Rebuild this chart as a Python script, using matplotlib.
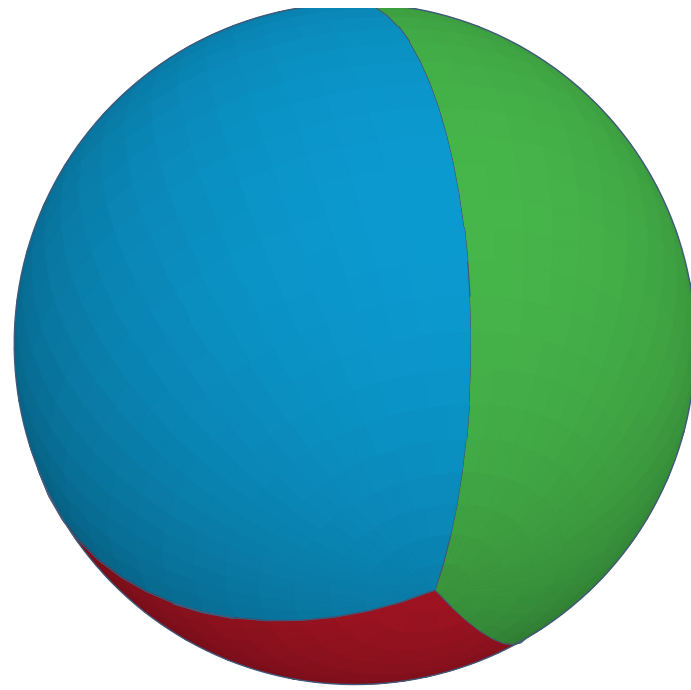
import numpy as np
import matplotlib
matplotlib.use("Agg")
import matplotlib.pyplot as plt
from mpl_toolkits.mplot3d.art3d import Poly3DCollection

# ---- data ----
labels = ["Blue", "Green", "Red"]
values = [34, 38, 28]            # percentage shares of the sphere pie
colors = ["#0b9ad0", "#46b64a", "#c4182a"]
explode = [0.0, 0.0, 0.0]
start_angle = -41                # degrees

# ---- geometry (view coords: X right, Y up, Z toward viewer) ----
a = np.array([0.235, -0.72, 0.653]); a /= np.linalg.norm(a)
u = np.array([-0.894, 0.104, 0.436]); u -= a * (u @ a); u /= np.linalg.norm(u)
v = -np.cross(a, u)
Lgt = np.array([0.3, 0.45, 1.0]); Lgt /= np.linalg.norm(Lgt)
edge_col = "#41597a"

def to_world(P):
    P = np.asarray(P)
    return np.stack([P[..., 0], -P[..., 2], P[..., 1]], axis=-1)

def shade(rgb, n):
    d = np.clip(n @ Lgt, -1, 1)
    f = 0.72 + 0.28 * d
    return tuple(np.clip(np.array(rgb) * f, 0, 1)) + (1.0,)

def sph(t, p):
    return np.cos(t) * a + np.sin(t) * (np.cos(p) * u + np.sin(p) * v)

fig = plt.figure(figsize=(6.91, 6.90), dpi=100)
ax = fig.add_axes([0, -0.012, 1, 1], projection="3d", proj_type="ortho")
ax.view_init(elev=0, azim=-90)
ax.set_axis_off()

polys, fcs, ecs, lws = [], [], [], []
fr = np.radians(np.array(values, float) / np.sum(values) * 360)
starts = np.radians(start_angle) + np.concatenate([[0], np.cumsum(fr)[:-1]])
nth = 30
th = np.linspace(0, np.pi, nth + 1)
for k in range(len(values)):
    rgb = np.array(matplotlib.colors.to_rgb(colors[k]))
    p0, p1 = starts[k], starts[k] + fr[k]
    mid = (p0 + p1) / 2
    off = explode[k] * (np.cos(mid) * u + np.sin(mid) * v)
    nph = max(4, int(np.degrees(fr[k]) / 6))
    ph = np.linspace(p0, p1, nph + 1)
    for i in range(nth):
        for j in range(nph):
            quad = np.array([sph(th[i], ph[j]), sph(th[i + 1], ph[j]),
                             sph(th[i + 1], ph[j + 1]), sph(th[i], ph[j + 1])])
            n = quad.mean(0); n /= np.linalg.norm(n)
            c = shade(rgb, n)
            polys.append(to_world(quad + off)); fcs.append(c); ecs.append(c); lws.append(0.6)
    # flat faces (split in strips)
    for p, sgn in ((p0, -1), (p1, 1)):
        w = np.cos(p) * u + np.sin(p) * v
        n = sgn * np.cross(a, w)
        c = shade(rgb * 0.85, n)
        for i in range(nth):
            tri = np.array([np.zeros(3), sph(th[i], p), sph(th[i + 1], p)]) * 0.999
            polys.append(to_world(tri + off)); fcs.append(c); ecs.append(c); lws.append(0.6)
        # boundary meridian line segments
        for i in range(nth):
            seg = np.array([sph(th[i], p), sph(th[i + 1], p)]) * 1.004
            polys.append(to_world(seg + off)); fcs.append((0, 0, 0, 0)); ecs.append(edge_col); lws.append(1.7)

pc = Poly3DCollection(polys, facecolors=fcs, edgecolors=ecs, linewidths=lws)
ax.add_collection3d(pc)

# silhouette outline (great circle perpendicular to the view direction)
tt = np.linspace(0, 2 * np.pi, 200)
ring = to_world(np.stack([np.cos(tt), np.sin(tt), np.zeros_like(tt)], -1) * 1.0)
ax.plot(ring[:, 0], ring[:, 1], ring[:, 2], color=edge_col, lw=1.0, zorder=10)
ax.computed_zorder = False

ax.set_xlim(-1, 1); ax.set_ylim(-1, 1); ax.set_zlim(-1, 1)
ax.set_box_aspect((1, 1, 1), zoom=1.66)
fig.savefig("out.png", dpi=100)
